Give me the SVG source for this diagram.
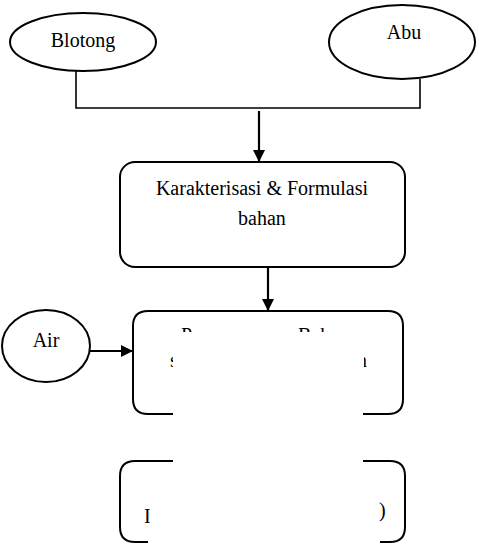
<svg xmlns="http://www.w3.org/2000/svg" width="479" height="546" viewBox="0 0 479 546">
<style>
.shape{fill:none;stroke:#000;stroke-width:2}
.line{fill:none;stroke:#000;stroke-width:1.6}
.arrow{fill:none;stroke:#000;stroke-width:2.2}
text{font-family:"Liberation Serif","Times New Roman",serif;font-size:20px;fill:#000}
</style>
<defs>
<marker id="ah" markerUnits="userSpaceOnUse" markerWidth="12" markerHeight="12" refX="12" refY="6" orient="auto">
<path d="M0,0 L12,6 L0,12 Z" fill="#000"/>
</marker>
<clipPath id="cTop"><rect x="0" y="300" width="479" height="32"/></clipPath>
<clipPath id="cL2"><rect x="160" y="340" width="13" height="40"/></clipPath>
<clipPath id="cR2"><rect x="364" y="340" width="20" height="40"/></clipPath>
<clipPath id="cL4"><rect x="130" y="490" width="20" height="40"/></clipPath>
</defs>
<rect width="479" height="546" fill="#fff"/>
<g id="blotong">
<ellipse class="shape" cx="83" cy="42" rx="73" ry="29"/>
<text x="83" y="47" text-anchor="middle">Blotong</text>
</g>
<g id="abu">
<ellipse class="shape" cx="402" cy="42" rx="73" ry="37"/>
<text x="404" y="39" text-anchor="middle">Abu</text>
</g>
<g id="karakterisasi">
<rect class="shape" x="120" y="162" width="285" height="105" rx="15" ry="15"/>
<text x="262" y="195" text-anchor="middle">Karakterisasi &amp; Formulasi</text>
<text x="262" y="225" text-anchor="middle">bahan</text>
</g>
<g id="air">
<ellipse class="shape" cx="46" cy="346" rx="44" ry="36"/>
<text x="46" y="347" text-anchor="middle">Air</text>
</g>
<g id="pencampuran">
<path class="shape" d="M173,414 H148 Q133,414 133,399 V326 Q133,311 148,311 H388 Q403,311 403,326 V399 Q403,414 388,414 H363"/>
<text x="181" y="342" clip-path="url(#cTop)">P</text>
<text x="298" y="342" clip-path="url(#cTop)">Bah</text>
<text x="170" y="367" clip-path="url(#cL2)">s</text>
<text x="357" y="367" clip-path="url(#cR2)">n</text>
</g>
<g id="hasil">
<path class="shape" d="M173,461 H135 Q120,461 120,476 V527 Q120,542 135,542 H148"/>
<path class="shape" d="M363,461 H390 Q405,461 405,476 V527 Q405,542 390,542 H380"/>
<text x="144" y="523" clip-path="url(#cL4)">I</text>
<text x="379" y="517">)</text>
</g>
<g id="connectors">
<path class="line" d="M76,71 V108 H420 V79"/>
<line class="arrow" x1="259" y1="111" x2="259" y2="162" marker-end="url(#ah)"/>
<line class="arrow" x1="268" y1="267" x2="268" y2="311" marker-end="url(#ah)"/>
<line class="arrow" x1="90" y1="351" x2="133" y2="351" marker-end="url(#ah)"/>
</g>
</svg>
